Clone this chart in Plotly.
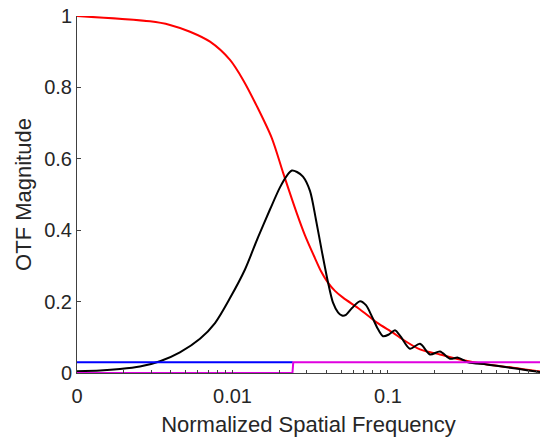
import plotly.graph_objects as go

# ---- data ----
red_f = [0.001, 0.00295, 0.00396, 0.00533, 0.00717, 0.00964, 0.0117, 0.0144, 0.0179,
         0.0212, 0.0259, 0.0293, 0.0339, 0.0371, 0.0411, 0.0456, 0.0514, 0.0661, 0.085,
         0.1077, 0.1195, 0.1606, 0.216, 0.290, 0.433, 0.637, 0.95]
red_v = [1.0, 0.985, 0.975, 0.956, 0.928, 0.877, 0.821, 0.746, 0.658,
         0.56, 0.448, 0.385, 0.322, 0.285, 0.253, 0.23, 0.211, 0.178, 0.141,
         0.113, 0.099, 0.066, 0.052, 0.038, 0.024, 0.015, 0.004]

black_f = [0.001, 0.00141, 0.00189, 0.00254, 0.00342, 0.00459, 0.00618, 0.00772, 0.00964,
           0.01203, 0.01459, 0.01742, 0.0202, 0.0224, 0.0241, 0.026, 0.0284, 0.0315, 0.0344,
           0.0376, 0.0411, 0.0443, 0.0477, 0.0506, 0.0537, 0.0587, 0.0661, 0.0722, 0.0789,
           0.0862, 0.0929, 0.1015, 0.1109, 0.1212, 0.1385, 0.1606, 0.1863, 0.216, 0.2504,
           0.2819, 0.3269, 0.433, 0.609, 0.783, 0.95]
black_v = [0.005, 0.007, 0.011, 0.018, 0.033, 0.058, 0.096, 0.14, 0.21,
           0.29, 0.38, 0.458, 0.52, 0.553, 0.567, 0.563, 0.55, 0.51, 0.43,
           0.34, 0.255, 0.197, 0.17, 0.161, 0.163, 0.182, 0.201, 0.19, 0.158,
           0.123, 0.103, 0.108, 0.12, 0.101, 0.068, 0.082, 0.052, 0.06, 0.04,
           0.043, 0.03, 0.024, 0.015, 0.008, 0.003]

blue_f = [0.001, 0.0244]
blue_v = [0.03, 0.03]

mag_f = [0.001, 0.0243, 0.0246, 0.95]
mag_v = [0.0, 0.0, 0.03, 0.03]

x_tickvals = [0.001, 0.002, 0.003, 0.004, 0.005, 0.006, 0.007, 0.008, 0.009,
              0.01, 0.02, 0.03, 0.04, 0.05, 0.06, 0.07, 0.08, 0.09,
              0.1, 0.2, 0.3, 0.4, 0.5, 0.6, 0.7, 0.8, 0.9]
x_ticktext = ["0", "", "", "", "", "", "", "", "",
              "0.01", "", "", "", "", "", "", "", "",
              "0.1", "", "", "", "", "", "", "", ""]
y_tickvals = [0, 0.2, 0.4, 0.6, 0.8, 1]
y_ticktext = ["0", "0.2", "0.4", "0.6", "0.8", "1"]

FONT = "Liberation Sans, Arial, sans-serif"
TXT = "#262626"

fig = go.Figure()
fig.add_trace(go.Scatter(x=red_f, y=red_v, mode="lines",
                         line=dict(color="#FF0000", width=2, shape="spline", smoothing=0.8)))
fig.add_trace(go.Scatter(x=black_f, y=black_v, mode="lines",
                         line=dict(color="#000000", width=2, shape="spline", smoothing=0.8)))
fig.add_trace(go.Scatter(x=blue_f, y=blue_v, mode="lines", line=dict(color="#0000FF", width=2)))
fig.add_trace(go.Scatter(x=mag_f, y=mag_v, mode="lines", line=dict(color="#E000E0", width=2)))

fig.update_layout(
    width=540, height=437,
    margin=dict(l=77, r=0, t=16, b=64),
    paper_bgcolor="white", plot_bgcolor="white",
    showlegend=False,
    font=dict(family=FONT, size=20, color=TXT),
    xaxis=dict(
        type="log", range=[-3, -0.0223], automargin=False,
        tickvals=x_tickvals, ticktext=x_ticktext,
        ticks="inside", ticklen=3, tickcolor="#404040", tickwidth=1,
        showline=True, linecolor="#404040", linewidth=1,
        showgrid=False, zeroline=False, ticklabelstandoff=5,
        title=dict(text="Normalized Spatial Frequency", font=dict(size=22, color=TXT), standoff=10),
        tickfont=dict(size=20, color=TXT),
    ),
    yaxis=dict(
        range=[0, 1], automargin=False,
        tickvals=y_tickvals, ticktext=y_ticktext,
        ticks="inside", ticklen=4, tickcolor="#404040", tickwidth=1,
        showline=True, linecolor="#404040", linewidth=1,
        showgrid=False, zeroline=False,
        title=dict(text="OTF Magnitude", font=dict(size=22, color=TXT), standoff=6),
        tickfont=dict(size=20, color=TXT),
    ),
)

fig.write_html("out.html", config={"displayModeBar": False},
               post_script="document.body.style.margin='0';document.body.style.overflow='hidden';")
